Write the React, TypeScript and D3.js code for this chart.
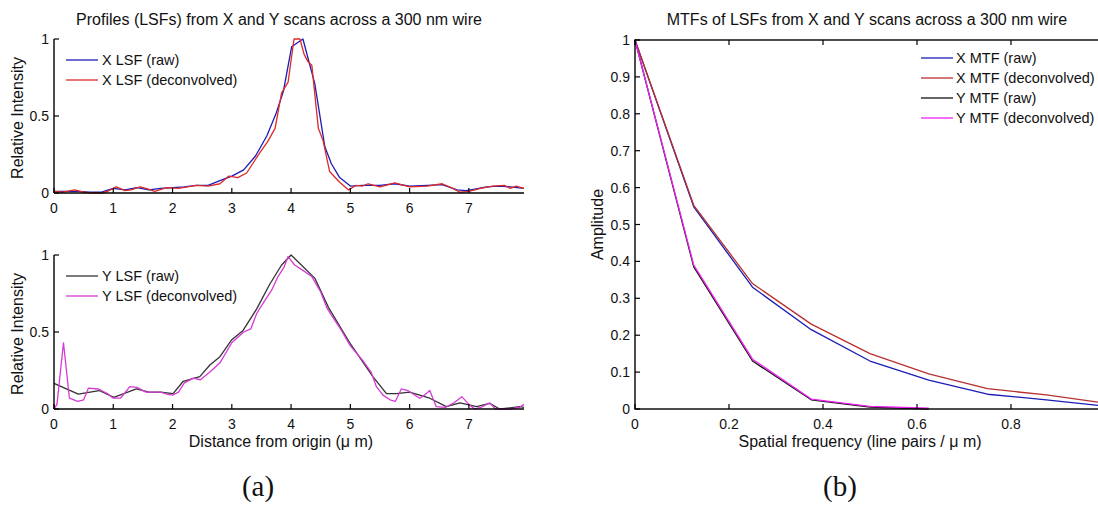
import React from "react";
import * as d3 from "d3";

// ---------- data ----------
const xLsfRawX = [0, 0.2, 0.4, 0.6, 0.8, 1.0, 1.2, 1.4, 1.6, 1.8, 2.0, 2.2, 2.4, 2.6, 2.8, 3.0, 3.2, 3.4, 3.59, 3.75, 3.87, 4.01, 4.2, 4.4, 4.57, 4.68, 4.82, 5.0, 5.2, 5.5, 5.75, 6.0, 6.3, 6.55, 6.8, 6.95, 7.1, 7.3, 7.5, 7.7, 7.93];
const xLsfRawY = [0.01, 0.01, 0.01, 0.005, 0.005, 0.03, 0.02, 0.035, 0.02, 0.03, 0.035, 0.04, 0.05, 0.05, 0.08, 0.11, 0.15, 0.24, 0.37, 0.52, 0.66, 0.95, 1.0, 0.71, 0.3, 0.19, 0.1, 0.045, 0.05, 0.05, 0.06, 0.045, 0.05, 0.055, 0.02, 0.015, 0.025, 0.04, 0.045, 0.04, 0.03];

const xLsfDecX = [0, 0.15, 0.35, 0.5, 0.65, 0.8, 0.9, 1.05, 1.2, 1.3, 1.45, 1.55, 1.7, 1.9, 2.1, 2.25, 2.4, 2.6, 2.8, 2.95, 3.1, 3.25, 3.47, 3.6, 3.73, 3.84, 3.95, 4.05, 4.15, 4.22, 4.29, 4.35, 4.46, 4.54, 4.65, 4.82, 4.97, 5.1, 5.2, 5.3, 5.5, 5.75, 6.0, 6.3, 6.55, 6.7, 6.85, 7.0, 7.2, 7.4, 7.6, 7.7, 7.8, 7.93];
const xLsfDecY = [0.01, 0.005, 0.02, 0.005, 0.0, 0.0, 0.01, 0.04, 0.015, 0.02, 0.04, 0.03, 0.01, 0.035, 0.03, 0.04, 0.05, 0.045, 0.06, 0.11, 0.1, 0.13, 0.26, 0.33, 0.42, 0.65, 0.72, 1.0, 1.0, 0.9, 0.85, 0.83, 0.42, 0.34, 0.14, 0.07, 0.02, 0.05, 0.045, 0.06, 0.04, 0.065, 0.04, 0.045, 0.06, 0.035, 0.005, 0.01, 0.03, 0.045, 0.05, 0.03, 0.045, 0.03];

const yLsfRawX = [0, 0.41, 0.76, 1.01, 1.39, 1.6, 1.8, 2.01, 2.18, 2.46, 2.63, 2.8, 3.0, 3.19, 3.42, 3.64, 3.84, 4.0, 4.4, 4.63, 4.99, 5.38, 5.61, 5.78, 6.0, 6.34, 6.62, 6.85, 7.13, 7.35, 7.52, 7.86, 7.93];
const yLsfRawY = [0.167, 0.097, 0.12, 0.076, 0.13, 0.11, 0.11, 0.1, 0.18, 0.21, 0.286, 0.34, 0.45, 0.51, 0.65, 0.81, 0.935, 1.0, 0.85, 0.66, 0.43, 0.21, 0.1, 0.1, 0.11, 0.07, 0.015, 0.04, 0.015, 0.037, 0.0, 0.015, 0.01];

const yLsfDecX = [0, 0.05, 0.16, 0.26, 0.4, 0.5, 0.58, 0.75, 0.9, 1.0, 1.12, 1.28, 1.4, 1.55, 1.8, 1.92, 2.0, 2.1, 2.2, 2.35, 2.47, 2.63, 2.8, 3.0, 3.2, 3.32, 3.42, 3.55, 3.67, 3.78, 3.88, 3.95, 4.06, 4.2, 4.35, 4.5, 4.6, 4.68, 4.85, 5.0, 5.22, 5.35, 5.44, 5.55, 5.67, 5.76, 5.86, 5.97, 6.17, 6.25, 6.34, 6.45, 6.6, 6.75, 6.88, 7.0, 7.1, 7.2, 7.35, 7.45, 7.55, 7.7, 7.85, 7.93];
const yLsfDecY = [0.0, 0.03, 0.43, 0.07, 0.05, 0.06, 0.135, 0.13, 0.1, 0.07, 0.07, 0.145, 0.14, 0.11, 0.11, 0.095, 0.09, 0.11, 0.17, 0.2, 0.19, 0.24, 0.3, 0.43, 0.5, 0.52, 0.62, 0.7, 0.77, 0.86, 0.92, 0.99, 0.935, 0.9, 0.86, 0.76, 0.66, 0.61, 0.51, 0.41, 0.31, 0.24, 0.145, 0.09, 0.06, 0.05, 0.13, 0.12, 0.07, 0.09, 0.12, 0.015, 0.01, 0.04, 0.08, 0.03, 0.0, 0.01, 0.04, 0.0, 0.0, 0.0, 0.01, 0.03];

const mtfFreq = [0, 0.125, 0.25, 0.375, 0.5, 0.625, 0.75, 0.875, 1.0];
const xMtfRaw = [1, 0.548, 0.33, 0.215, 0.13, 0.078, 0.04, 0.025, 0.008];
const xMtfDec = [1, 0.552, 0.34, 0.23, 0.15, 0.095, 0.055, 0.038, 0.016];
const yMtfRaw = [1, 0.385, 0.13, 0.025, 0.005, 0.0];
const yMtfDec = [1, 0.39, 0.135, 0.027, 0.007, 0.002];

const lsfXTicks = [0, 1, 2, 3, 4, 5, 6, 7];
const lsfYTicks = [0, 0.5, 1];
const mtfXTicks = [0, 0.2, 0.4, 0.6, 0.8, 1];
const mtfYTicks = [0, 0.1, 0.2, 0.3, 0.4, 0.5, 0.6, 0.7, 0.8, 0.9, 1];

// ---------- styles ----------
const FONT = "'Liberation Sans', Arial, Helvetica, sans-serif";
const SERIF = "'Liberation Serif', 'DejaVu Serif', serif";
const C_BLUE = "#1c1cb4";
const C_RED = "#dd2a2a";
const C_DRED = "#b83030";
const C_BLACK = "#333333";
const C_MAG = "#d53ad5";
const TICK = 5;
const FS_TICK = 14;
const FS_LABEL = 16;
const FS_LEG = 14.5;
const W = 1098;

const zip = (xs: number[], ys: number[]) => ys.map((y, i) => [xs[i], y] as [number, number]);

function LsfPanel({ top, series, legend, showXLabel }: any) {
  const x = d3.scaleLinear().domain([0, 7.93]).range([54, 524]);
  const y = d3.scaleLinear().domain([0, 1]).range([top + 154, top]);
  const line = d3.line<[number, number]>().x((d) => x(d[0])).y((d) => y(d[1]));
  const y0 = y(0);
  return (
    <g>
      {series.map((s: any, i: number) => (
        <path key={i} d={line(s.pts) || ""} fill="none" stroke={s.color} strokeWidth={1.3} strokeLinejoin="round" />
      ))}
      <line x1={54} x2={54} y1={top} y2={y0} stroke="#000" strokeWidth={1.4} />
      <line x1={54} x2={524} y1={y0} y2={y0} stroke="#000" strokeWidth={1.4} />
      {lsfXTicks.map((t) => (
        <g key={t}>
          <line x1={x(t)} x2={x(t)} y1={y0} y2={y0 - TICK} stroke="#000" strokeWidth={1.2} />
          <text x={x(t)} y={y0 + 20} textAnchor="middle" fontSize={FS_TICK} fontFamily={FONT} fill="#111">{t}</text>
        </g>
      ))}
      {lsfYTicks.map((t) => (
        <g key={t}>
          <line x1={54} x2={54 + TICK} y1={y(t)} y2={y(t)} stroke="#000" strokeWidth={1.2} />
          <text x={49} y={y(t) + 5} textAnchor="end" fontSize={FS_TICK} fontFamily={FONT} fill="#111">{t}</text>
        </g>
      ))}
      <text transform={`translate(23,${top + 79}) rotate(-90)`} textAnchor="middle" fontSize={FS_LABEL} fontFamily={FONT} fill="#111">Relative Intensity</text>
      {legend.map((l: any, i: number) => (
        <g key={i}>
          <line x1={66} x2={98} y1={top + 21 + i * 20} y2={top + 21 + i * 20} stroke={l.color} strokeWidth={1.3} />
          <text x={102} y={top + 26 + i * 20} fontSize={FS_LEG} fontFamily={FONT} fill="#111">{l.label}</text>
        </g>
      ))}
      {showXLabel && (
        <text x={281} y={y0 + 38} textAnchor="middle" fontSize={FS_LABEL} fontFamily={FONT} fill="#111">Distance from origin (μ m)</text>
      )}
    </g>
  );
}

function MtfPanel() {
  const L = 635, R = 1105, T = 40, B = 409;
  const x = d3.scaleLinear().domain([0, 1]).range([L, R]);
  const y = d3.scaleLinear().domain([0, 1]).range([B, T]);
  const line = d3.line<[number, number]>().x((d) => x(d[0])).y((d) => y(d[1]));
  const series = [
    { pts: zip(mtfFreq, xMtfRaw), color: C_BLUE, label: "X MTF (raw)" },
    { pts: zip(mtfFreq, xMtfDec), color: C_DRED, label: "X MTF (deconvolved)" },
    { pts: zip(mtfFreq, yMtfRaw), color: "#111", label: "Y MTF (raw)" },
    { pts: zip(mtfFreq, yMtfDec), color: "#ee22ee", label: "Y MTF (deconvolved)" },
  ];
  return (
    <g>
      {series.map((s, i) => (
        <path key={i} d={line(s.pts) || ""} fill="none" stroke={s.color} strokeWidth={1.3} strokeLinejoin="round" />
      ))}
      <rect x={L} y={T} width={R - L} height={B - T} fill="none" stroke="#000" strokeWidth={1.4} />
      {mtfXTicks.map((t) => (
        <g key={t}>
          <line x1={x(t)} x2={x(t)} y1={B} y2={B - TICK} stroke="#000" strokeWidth={1.2} />
          <line x1={x(t)} x2={x(t)} y1={T} y2={T + TICK} stroke="#000" strokeWidth={1.2} />
          {x(t) + 5 < W && (
            <text x={x(t)} y={B + 20} textAnchor="middle" fontSize={FS_TICK} fontFamily={FONT} fill="#111">{t}</text>
          )}
        </g>
      ))}
      {mtfYTicks.map((t) => (
        <g key={t}>
          <line x1={L} x2={L + TICK} y1={y(t)} y2={y(t)} stroke="#000" strokeWidth={1.2} />
          <line x1={R} x2={R - TICK} y1={y(t)} y2={y(t)} stroke="#000" strokeWidth={1.2} />
          <text x={L - 5} y={y(t) + 5} textAnchor="end" fontSize={FS_TICK} fontFamily={FONT} fill="#111">{t}</text>
        </g>
      ))}
      {series.map((s, i) => (
        <g key={"l" + i}>
          <line x1={921} x2={953} y1={58 + i * 20} y2={58 + i * 20} stroke={s.color} strokeWidth={1.3} />
          <text x={956} y={63 + i * 20} fontSize={FS_LEG} fontFamily={FONT} fill="#111">{s.label}</text>
        </g>
      ))}
      <text transform={`translate(603,${(T + B) / 2}) rotate(-90)`} textAnchor="middle" fontSize={FS_LABEL} fontFamily={FONT} fill="#111">Amplitude</text>
      <text x={860} y={B + 38} textAnchor="middle" fontSize={FS_LABEL} fontFamily={FONT} fill="#111">Spatial frequency (line pairs / μ m)</text>
      <text x={867} y={25} textAnchor="middle" fontSize={FS_LABEL} fontFamily={FONT} fill="#111">MTFs of LSFs from X and Y scans across a 300 nm wire</text>
    </g>
  );
}

export default function App() {
  const topSeries = [
    { pts: zip(xLsfRawX, xLsfRawY), color: C_BLUE },
    { pts: zip(xLsfDecX, xLsfDecY), color: C_RED },
  ];
  const botSeries = [
    { pts: zip(yLsfRawX, yLsfRawY), color: C_BLACK },
    { pts: zip(yLsfDecX, yLsfDecY), color: C_MAG },
  ];
  return (
    <div style={{ position: "absolute", left: 0, top: 0 }}>
      <svg width={W} height={505} style={{ display: "block", background: "#fff" }}>
        <rect width={W} height={505} fill="#fff" />
        <text x={279} y={25} textAnchor="middle" fontSize={FS_LABEL} fontFamily={FONT} fill="#111">Profiles (LSFs) from X and Y scans across a 300 nm wire</text>
        <LsfPanel top={39} series={topSeries} showXLabel={false}
          legend={[{ color: C_BLUE, label: "X LSF (raw)" }, { color: C_RED, label: "X LSF (deconvolved)" }]} />
        <LsfPanel top={255} series={botSeries} showXLabel={true}
          legend={[{ color: C_BLACK, label: "Y LSF (raw)" }, { color: C_MAG, label: "Y LSF (deconvolved)" }]} />
        <MtfPanel />
        <text x={258} y={496} textAnchor="middle" fontSize={29} fontFamily={SERIF} fill="#111">(a)</text>
        <text x={840} y={496} textAnchor="middle" fontSize={29} fontFamily={SERIF} fill="#111">(b)</text>
      </svg>
    </div>
  );
}
